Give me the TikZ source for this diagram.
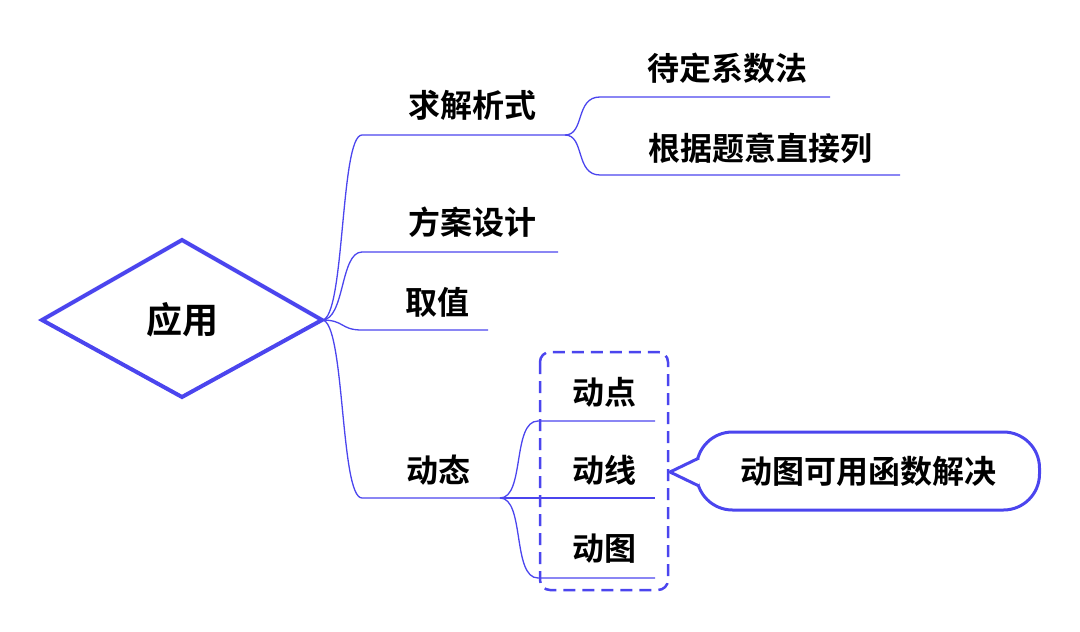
\documentclass[tikz,border=0pt]{standalone}
\usepackage{fontspec}
\newfontfamily\cjk{Noto Sans CJK SC}[BoldFont={Noto Sans CJK SC Bold}]
\usetikzlibrary{shapes.geometric}
\definecolor{mapblue}{HTML}{4B45EE}

\begin{document}
\begin{tikzpicture}[x=1pt,y=-1pt,line width=1.3pt]

\tikzset{
    topic/.style={font=\cjk\bfseries\fontsize{32}{32}\selectfont, inner sep=0pt},
    branch/.style={draw=mapblue, line width=1.3pt},
}
\useasboundingbox (0,0) rectangle (1080,632);

% ----------- root ----------- %
\draw[draw=mapblue, line width=4pt, line join=miter] (42,320) -- (182,240) -- (322,320) -- (182,397) -- cycle;
\node[topic, font=\cjk\bfseries\fontsize{36}{36}\selectfont] (root) at (182,320) {应用};
\coordinate (r) at (322,320);

% ----------- first level ----------- %
\node[topic] (jiexi) at (472,105) {求解析式};
\node[topic] (fangan) at (472,222) {方案设计};
\node[topic] (quzhi) at (437,302) {取值};
\node[topic] (dongtai) at (438,470) {动态};

\coordinate (a1) at (362,135); \coordinate (a2) at (565,135);
\coordinate (b1) at (362,252); \coordinate (b2) at (558,252);
\coordinate (c1) at (362,330); \coordinate (c2) at (488,330);
\coordinate (d1) at (362,498); \coordinate (d2) at (500,498);

\foreach \p in {a,b,c,d}{
    \draw[branch] (r) .. controls (345,320) and (340,0|-\p1) .. (\p1) -- (\p2);
}

% ----------- second level ----------- %
\node[topic] (daiding) at (727,68) {待定系数法};
\node[topic] (genju) at (760,148) {根据题意直接列};
\coordinate (e1) at (600,97); \coordinate (e2) at (830,97);
\coordinate (f1) at (600,175); \coordinate (f2) at (900,175);
\draw[branch] (a2) .. controls (585,135) and (575,97) .. (e1) -- (e2);
\draw[branch] (a2) .. controls (585,135) and (575,175) .. (f1) -- (f2);

\node[topic] (dongdian) at (604,392) {动点};
\node[topic] (dongxian) at (604,470) {动线};
\node[topic] (dongtu) at (604,549) {动图};
\coordinate (g1) at (538,421); \coordinate (g2) at (655,421);
\coordinate (h2) at (655,498);
\coordinate (i1) at (538,578); \coordinate (i2) at (655,578);
\draw[branch] (d2) .. controls (525,498) and (512,421) .. (g1) -- (g2);
\draw[branch] (d2) -- (h2);
\draw[branch] (d2) .. controls (525,498) and (512,578) .. (i1) -- (i2);

% ----------- boundary and callout ----------- %
\draw[draw=mapblue, line width=2.5pt, dash pattern=on 12pt off 7pt, rounded corners=10pt] (540,352) rectangle (668,590);
\node[topic, draw=mapblue, line width=3pt, rounded corners=36pt, minimum width=343pt, minimum height=78pt] (callout) at (868,471) {动图可用函数解决};
\draw[draw=mapblue, line width=3pt, fill=white, line join=round] (699,458) -- (670,472) -- (699,486);

\end{tikzpicture}
\end{document}
